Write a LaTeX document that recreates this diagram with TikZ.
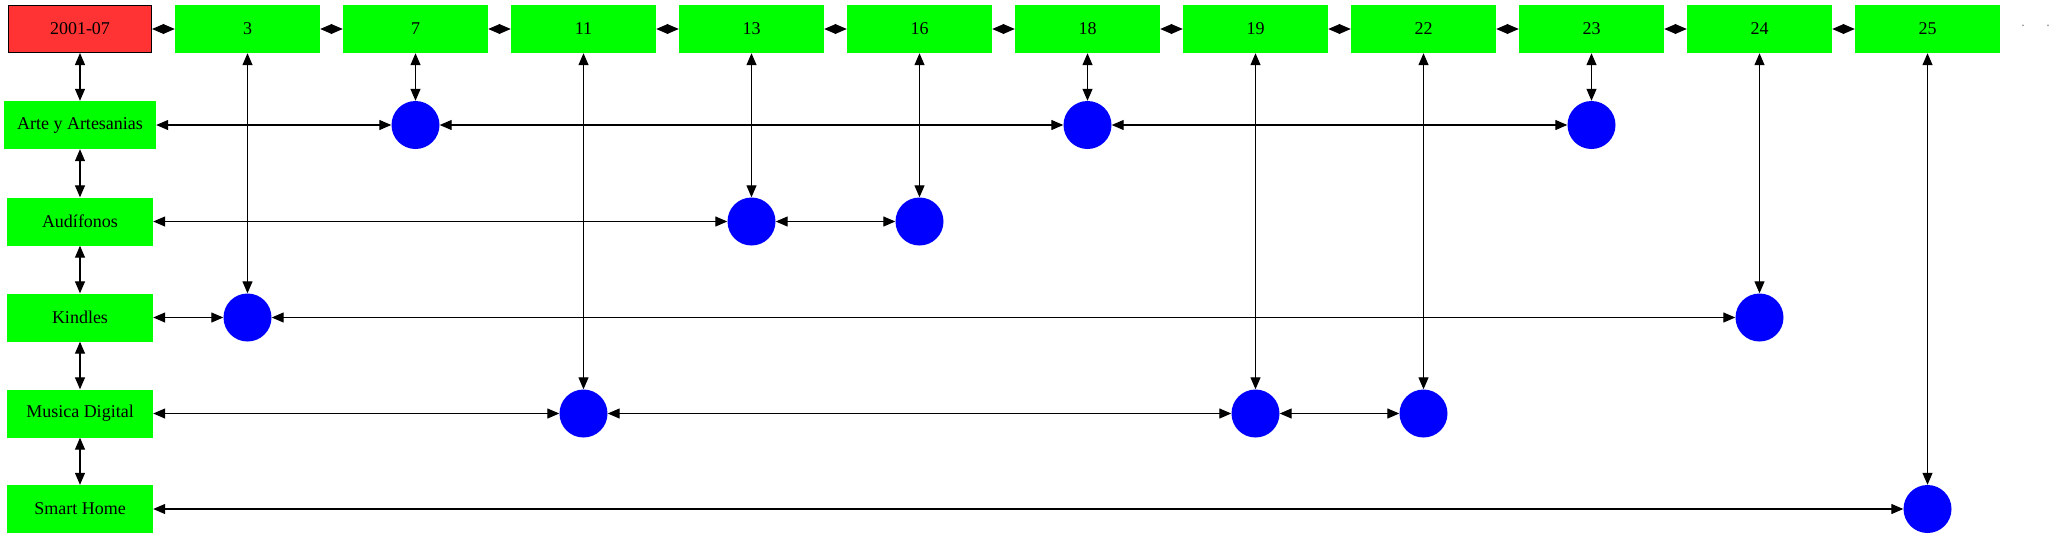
\documentclass[tikz,border=0pt]{standalone}
\usepackage{fontspec}
\setmainfont{Liberation Serif}
\usetikzlibrary{arrows.meta}
\definecolor{boxgreen}{RGB}{0,255,0}
\definecolor{boxred}{RGB}{255,51,51}
\definecolor{dotblue}{RGB}{0,0,255}
\begin{document}
\begin{tikzpicture}[x=1pt,y=-1pt,
  lbl/.style={inner sep=0pt, font=\fontsize{18}{20}\selectfont},
  hdr/.style={lbl, fill=boxgreen, minimum width=145pt, minimum height=48pt},
  rowbox/.style={lbl, fill=boxgreen, minimum width=146pt, minimum height=48pt},
  datebox/.style={lbl, fill=boxred, draw=black, line width=1pt, minimum width=143pt, minimum height=47pt},
  dot/.style={circle, fill=dotblue, minimum size=48pt, inner sep=0pt},
  link/.style={line width=1.2pt, {Triangle[length=12pt,width=10pt]}-{Triangle[length=12pt,width=10pt]}}
]
\useasboundingbox (0,0) rectangle (2053,539);
% header row
\node[datebox] (h0) at (80,29) {2001-07};
\node[hdr] (h3)  at (247.5,29) {3};
\node[hdr] (h7)  at (415.5,29) {7};
\node[hdr] (h11) at (583.5,29) {11};
\node[hdr] (h13) at (751.5,29) {13};
\node[hdr] (h16) at (919.5,29) {16};
\node[hdr] (h18) at (1087.5,29) {18};
\node[hdr] (h19) at (1255.5,29) {19};
\node[hdr] (h22) at (1423.5,29) {22};
\node[hdr] (h23) at (1591.5,29) {23};
\node[hdr] (h24) at (1759.5,29) {24};
\node[hdr] (h25) at (1927.5,29) {25};
\node[lbl, text=gray, font=\fontsize{14}{14}\selectfont] (e1) at (2023,26) {.};
\node[lbl, text=gray, font=\fontsize{14}{14}\selectfont] (e2) at (2048,26) {.};
% row labels
\node[rowbox, minimum width=152pt] (rA) at (80,125) {Arte y Artesanias};
\node[rowbox] (rB) at (80,221.5) {Audífonos};
\node[rowbox] (rC) at (80,317.5) {Kindles};
\node[rowbox] (rD) at (80,413.5) {Musica Digital};
\node[rowbox] (rE) at (80,509) {Smart Home};
% dots
\node[dot] (a7)  at (415.5,125) {};
\node[dot] (a18) at (1087.5,125) {};
\node[dot] (a23) at (1591.5,125) {};
\node[dot] (b13) at (751.5,221.5) {};
\node[dot] (b16) at (919.5,221.5) {};
\node[dot] (c3)  at (247.5,317.5) {};
\node[dot] (c24) at (1759.5,317.5) {};
\node[dot] (d11) at (583.5,413.5) {};
\node[dot] (d19) at (1255.5,413.5) {};
\node[dot] (d22) at (1423.5,413.5) {};
\node[dot] (e25) at (1927.5,509) {};
% header chain
\foreach \a/\b in {h0/h3,h3/h7,h7/h11,h11/h13,h13/h16,h16/h18,h18/h19,h19/h22,h22/h23,h23/h24,h24/h25}
  \draw[link] (\a) -- (\b);
% left chain
\foreach \a/\b in {h0/rA,rA/rB,rB/rC,rC/rD,rD/rE}
  \draw[link] (\a) -- (\b);
% verticals
\foreach \a/\b in {h3/c3,h7/a7,h11/d11,h13/b13,h16/b16,h18/a18,h19/d19,h22/d22,h23/a23,h24/c24,h25/e25}
  \draw[link] (\a) -- (\b);
% horizontals
\foreach \a/\b in {rA/a7,a7/a18,a18/a23,rB/b13,b13/b16,rC/c3,c3/c24,rD/d11,d11/d19,d19/d22,rE/e25}
  \draw[link] (\a) -- (\b);
\end{tikzpicture}
\end{document}
